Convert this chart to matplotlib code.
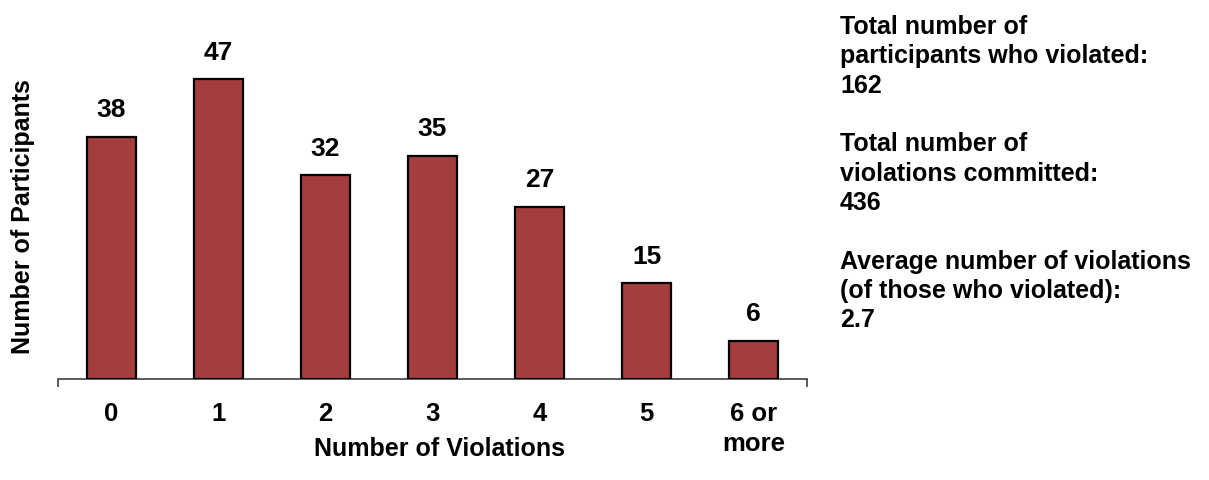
import matplotlib
matplotlib.use("Agg")
import matplotlib.pyplot as plt

plt.rcParams['font.family'] = ['Liberation Sans', 'DejaVu Sans']

categories = ["0", "1", "2", "3", "4", "5", "6 or\nmore"]
participants = [38, 47, 32, 35, 27, 15, 6]
summary_lines = [
    "Total number of\nparticipants who violated:\n162",
    "Total number of\nviolations committed:\n436",
    "Average number of violations\n(of those who violated):\n2.7",
]

W, H = 1209, 481
fig = plt.figure(figsize=(W / 100, H / 100), dpi=100)
ax = fig.add_axes([58 / W, 101 / H, 749 / W, 319 / H])

x = list(range(len(categories)))
bars = ax.bar(x, participants, width=0.45, color="#A43D3B",
              edgecolor="black", linewidth=1.6, zorder=3)

for xi, v in zip(x, participants):
    ax.annotate(str(v), (xi, v), xytext=(0, 11), textcoords="offset points",
                ha="center", va="bottom", fontsize=19, fontweight="bold",
                clip_on=False)

ax.set_xlim(-0.5, len(categories) - 0.5)
ax.set_ylim(0, 50)

for s in ("top", "right", "left"):
    ax.spines[s].set_visible(False)
ax.spines["bottom"].set_color("#404040")
ax.spines["bottom"].set_linewidth(1.2)
ax.set_yticks([])

ax.set_xticks([-0.5, len(categories) - 0.5])
ax.set_xticklabels([])
ax.tick_params(axis="x", which="major", direction="out", length=6,
               width=1.2, color="#404040")
ax.set_xticks(x, minor=True)
ax.set_xticklabels(categories, minor=True, fontsize=18.5, fontweight="bold",
                   linespacing=1.3)
ax.tick_params(axis="x", which="minor", length=0, pad=16)

fig.text(439 / W, 1 - 449 / H, "Number of Violations", ha="center",
         va="center", fontsize=18, fontweight="bold")
fig.text(23 / W, 1 - 217 / H, "Number of Participants", ha="center",
         va="center", rotation=90, fontsize=18, fontweight="bold")

fig.text(840 / W, 1 - 15 / H, "\n\n".join(summary_lines), ha="left",
         va="top", fontsize=18, fontweight="bold", linespacing=1.28)

fig.savefig("out.png", dpi=100)
